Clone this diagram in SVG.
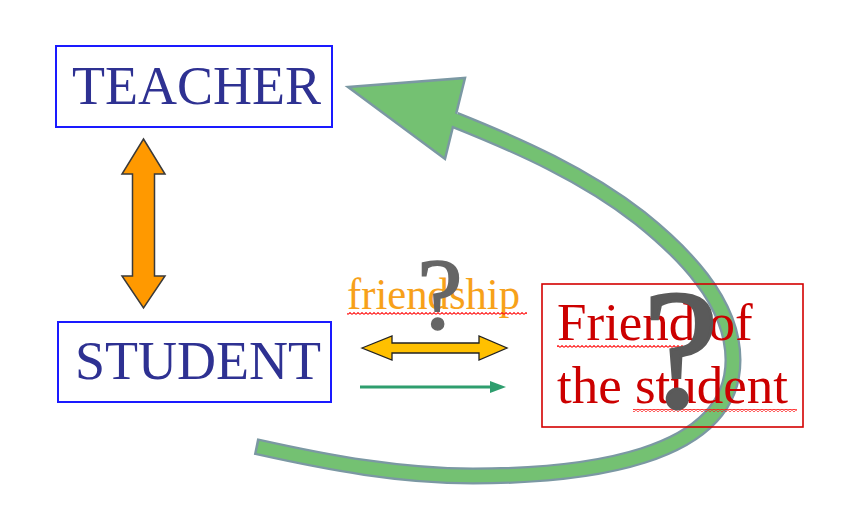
<svg xmlns="http://www.w3.org/2000/svg" width="850" height="531" viewBox="0 0 850 531">
<defs>
<pattern id="wavy" x="0" y="0" width="4" height="3" patternUnits="userSpaceOnUse">
<path d="M0,2.4 L2,0.6 L4,2.4" fill="none" stroke="#ff1010" stroke-width="1.1"/>
</pattern>
<style>
.serif{font-family:"Liberation Serif","Times New Roman",serif;}
.boxblue{fill:#ffffff;stroke:#1a1aff;stroke-width:2;}
.boxred{fill:none;stroke:#d40000;stroke-width:1.6;}
.blue{fill:#2e3192;font-size:54px;}
.red{fill:#cc0000;font-size:53px;}
.q{fill:#5a5a5a;stroke:#5a5a5a;}
.gout{fill:none;stroke:#7b98a3;stroke-width:17;}
.gin{fill:none;stroke:#74c172;stroke-width:12.5;}
</style>
</defs>
<rect width="850" height="531" fill="#ffffff"/>

<g id="connectors">
  <polygon points="143.5,139 165,174 154.5,174 154.5,276 165,276 143.5,308 122,276 132.5,276 132.5,174 122,174" fill="#ff9900" stroke="#3a3a3a" stroke-width="1.5" stroke-linejoin="miter"/>
  <polygon points="362,348 392,336 392,343 479,343 479,336 507,348 479,360 479,353 392,353 392,360" fill="#ffc000" stroke="#222222" stroke-width="1.3"/>
  <line x1="360" y1="387" x2="492" y2="387" stroke="#2e9e6e" stroke-width="3"/>
  <polygon points="506,387 490,381 490,393" fill="#2e9e6e"/>
  <path class="gout" d="M255.5,446.5 L258,447 C330,463 400,476 473,476 C580,476 733,460 733,360 C733,300 680,250 640,218 C585,175 520,146 455,120"/>
  <polygon points="348,87 465,78 445,159" fill="#74c172" stroke="#7b98a3" stroke-width="2.5" stroke-linejoin="miter"/>
  <path class="gin" d="M258,447 C330,463 400,476 473,476 C580,476 733,460 733,360 C733,300 680,250 640,218 C585,175 520,146 450,118"/>
</g>

<g id="label-friendship">
  <text class="serif" x="347" y="309" font-size="44" fill="#f7a11a" textLength="173" lengthAdjust="spacingAndGlyphs">friendship</text>
  <rect x="347" y="312" width="180" height="3" fill="url(#wavy)"/>
  <text class="serif q" x="440" y="329" font-size="102" text-anchor="middle" style="fill:#666666;stroke:#666666;stroke-width:1.6">?</text>
</g>

<g id="teacher">
  <rect class="boxblue" x="56" y="46" width="276" height="81"/>
  <text class="serif blue" x="72" y="104">TEACHER</text>
</g>

<g id="student">
  <rect class="boxblue" x="58" y="322" width="273" height="80"/>
  <text class="serif blue" x="75" y="379">STUDENT</text>
</g>

<g id="friend-of-student">
  <rect class="boxred" x="542" y="284" width="261" height="143"/>
  <text class="serif red" x="557" y="340">Friend of</text>
  <text class="serif red" x="557" y="403">the student</text>
  <rect x="557" y="345" width="140" height="3" fill="url(#wavy)"/>
  <rect x="633" y="409" width="164" height="3" fill="url(#wavy)"/>
  <text class="serif q" x="681" y="407" font-size="170" text-anchor="middle" stroke-width="3">?</text>
</g>
</svg>
